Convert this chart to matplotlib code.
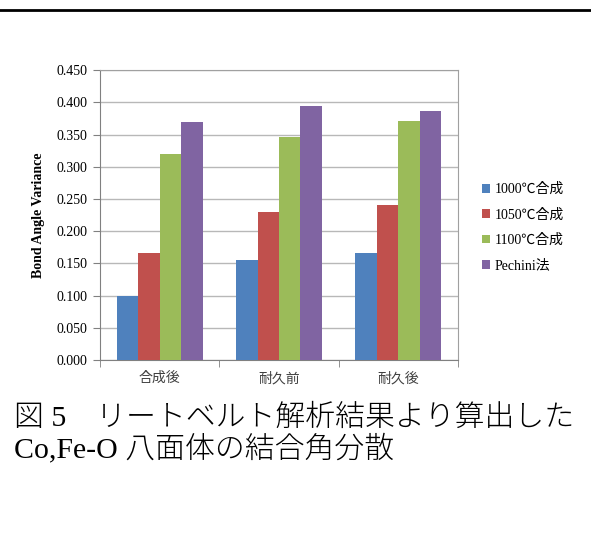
import matplotlib.pyplot as plt
import numpy as np
from matplotlib.lines import Line2D

categories = ['合成後', '耐久前', '耐久後']
series_names = ['1000℃合成', '1050℃合成', '1100℃合成', 'Pechini法']
values_1000 = [0.100, 0.155, 0.166]
values_1050 = [0.166, 0.230, 0.240]
values_1100 = [0.320, 0.346, 0.372]
values_pechini = [0.369, 0.394, 0.387]
colors = ['#4F81BD', '#C0504D', '#9BBB59', '#8064A2']

caption_1 = '図 5　リートベルト解析結果より算出した'
caption_2 = 'Co,Fe-O 八面体の結合角分散'

SERIF = ['Liberation Serif', 'Noto Sans CJK JP']
plt.rcParams['font.family'] = SERIF

fig = plt.figure(figsize=(5.91, 5.40), dpi=100)
ax = fig.add_axes([100 / 591, 1 - 360 / 540, 358 / 591, 289.7 / 540])

all_series = [values_1000, values_1050, values_1100, values_pechini]
x = np.arange(len(categories))
bar_w = 0.18
for i, (name, vals) in enumerate(zip(series_names, all_series)):
    offset = (i - 1.5) * bar_w
    ax.bar(x + offset, vals, width=bar_w, color=colors[i], label=name, zorder=3)

ax.set_xlim(-0.5, 2.5)
ax.set_ylim(0, 0.45)
ax.set_yticks(np.arange(0, 0.451, 0.05))
ax.set_yticklabels([f'{v:.3f}' for v in np.arange(0, 0.451, 0.05)], fontsize=10)
ax.yaxis.grid(True, color='#b8b8b8', linewidth=1, zorder=0)

# category labels centred, tick marks on the category boundaries
ax.set_xticks(x)
ax.set_xticklabels(categories, fontsize=10, color='#404040',
                   family=['Noto Sans CJK JP'])
ax.tick_params(axis='x', length=0, pad=8)
ax.set_xticks([-0.5, 0.5, 1.5, 2.5], minor=True)
ax.tick_params(axis='x', which='minor', length=5, color='#808080')
ax.tick_params(axis='y', length=5, color='#808080', pad=4)

for side in ['left', 'bottom']:
    ax.spines[side].set_color('#808080')
for side in ['top', 'right']:
    ax.spines[side].set_color('#a0a0a0')

ax.set_ylabel('Bond Angle Variance', fontsize=10, fontweight='bold', labelpad=8)

fig.legend(loc='upper left', bbox_to_anchor=(475 / 591, 1 - 176 / 540),
           frameon=False, fontsize=10, handlelength=0.6, handleheight=0.6,
           handletextpad=0.3, labelspacing=0.88, borderpad=0)

# rule across the top of the page
fig.add_artist(Line2D([0, 1], [1 - 10 / 540, 1 - 10 / 540], color='black',
                      linewidth=2, transform=fig.transFigure))

fig.text(14 / 591, 1 - 418 / 540, caption_1, fontsize=21.5, va='center',
         ha='left', fontweight='light')
fig.text(14 / 591, 1 - 448 / 540, caption_2, fontsize=21.5, va='center',
         ha='left', fontweight='light')

fig.savefig('out.png', dpi=100)
